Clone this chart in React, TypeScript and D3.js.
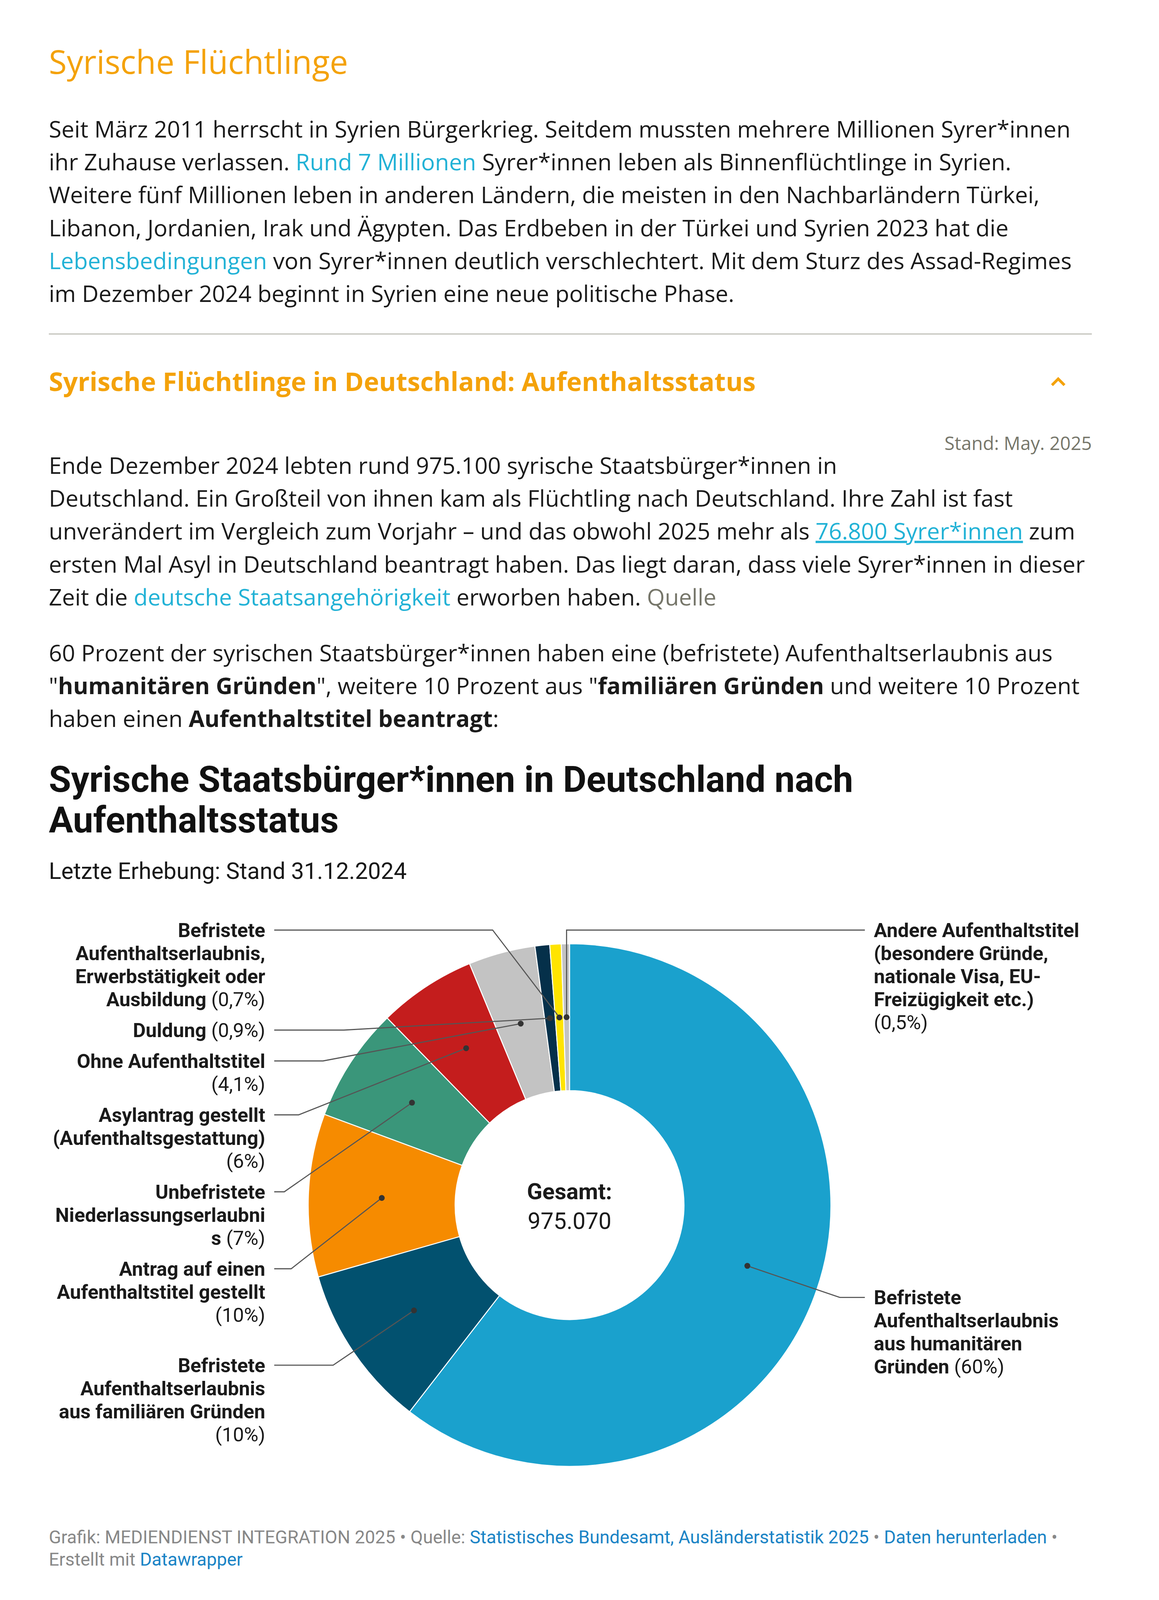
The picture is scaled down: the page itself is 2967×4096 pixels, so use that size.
import * as d3 from 'd3';

// Slice data (reading order: clockwise from 12 o'clock)
const categories = [
  'Befristete\nAufenthaltserlaubnis\naus humanitären\nGründen',
  'Befristete\nAufenthaltserlaubnis\naus familiären Gründen\n',
  'Antrag auf einen\nAufenthaltstitel gestellt\n',
  'Unbefristete\nNiederlassungserlaubni\ns',
  'Asylantrag gestellt\n(Aufenthaltsgestattung)\n',
  'Ohne Aufenthaltstitel\n',
  'Duldung',
  'Befristete\nAufenthaltserlaubnis,\nErwerbstätigkeit oder\nAusbildung',
  'Andere Aufenthaltstitel\n(besondere Gründe,\nnationale Visa, EU-\nFreizügigkeit etc.)\n',
];
const shares = [60, 10, 10, 7, 6, 4.1, 0.9, 0.7, 0.5];
const sliceColors = ['#1aa1cd', '#02516f', '#f68b00', '#3a967a', '#c41d1d', '#c3c3c3', '#05304a', '#ffe400', '#c3c3c3'];
const labelSide = ['right', 'left', 'left', 'left', 'left', 'left', 'left', 'left', 'right'];
const totalLabel = '975.070';

type Seg = { t: string; k?: 'link' | 'u' | 'b' | 'q' };
const p1: Seg[][] = [
  [{ t: 'Seit März 2011 herrscht in Syrien Bürgerkrieg. Seitdem mussten mehrere Millionen Syrer*innen' }],
  [{ t: 'ihr Zuhause verlassen. ' }, { t: 'Rund 7 Millionen', k: 'link' }, { t: ' Syrer*innen leben als Binnenflüchtlinge in Syrien.' }],
  [{ t: 'Weitere fünf Millionen leben in anderen Ländern, die meisten in den Nachbarländern Türkei,' }],
  [{ t: 'Libanon, Jordanien, Irak und Ägypten. Das Erdbeben in der Türkei und Syrien 2023 hat die' }],
  [{ t: 'Lebensbedingungen', k: 'link' }, { t: ' von Syrer*innen deutlich verschlechtert. Mit dem Sturz des Assad-Regimes' }],
  [{ t: 'im Dezember 2024 beginnt in Syrien eine neue politische Phase.' }],
];
const p2: Seg[][] = [
  [{ t: 'Ende Dezember 2024 lebten rund 975.100 syrische Staatsbürger*innen in' }],
  [{ t: 'Deutschland. Ein Großteil von ihnen kam als Flüchtling nach Deutschland. Ihre Zahl ist fast' }],
  [{ t: 'unverändert im Vergleich zum Vorjahr – und das obwohl 2025 mehr als ' }, { t: '76.800 Syrer*innen', k: 'u' }, { t: ' zum' }],
  [{ t: 'ersten Mal Asyl in Deutschland beantragt haben. Das liegt daran, dass viele Syrer*innen in dieser' }],
  [{ t: 'Zeit die ' }, { t: 'deutsche Staatsangehörigkeit', k: 'link' }, { t: ' erworben haben. ' }, { t: 'Quelle', k: 'q' }],
];
const p3: Seg[][] = [
  [{ t: '60 Prozent der syrischen Staatsbürger*innen haben eine (befristete) Aufenthaltserlaubnis aus' }],
  [{ t: '"' }, { t: 'humanitären Gründen', k: 'b' }, { t: '", weitere 10 Prozent aus "' }, { t: 'familiären Gründen', k: 'b' }, { t: ' und weitere 10 Prozent' }],
  [{ t: 'haben einen ' }, { t: 'Aufenthaltstitel beantragt', k: 'b' }, { t: ':' }],
];
const footer1: Seg[] = [
  { t: 'Grafik: MEDIENDIENST INTEGRATION 2025 • Quelle: ' },
  { t: 'Statistisches Bundesamt, Ausländerstatistik 2025', k: 'link' },
  { t: ' • ' },
  { t: 'Daten herunterladen', k: 'link' },
  { t: ' •' },
];
const footer2: Seg[] = [{ t: 'Erstellt mit ' }, { t: 'Datawrapper', k: 'link' }];

const W = 2967;
const H = 4096;
const left = 125;
const right = 2795;
const open = '"Open Sans", "Noto Sans", sans-serif';
const roboto = 'Roboto, "Noto Sans", sans-serif';
const orange = '#f4a20a';
const cyan = '#22b2d6';

const cx = 1458;
const cy = 3085;
const outerR = 669;
const innerR = 293;
const elbowR = outerR + 62;
const labelOff = 779;
const lineOff = 756;
const lineH = 59;
const gap = 20;
const minLineY = 2381;

function Para({ lines, y0 }: { lines: Seg[][]; y0: number }) {
  return (
    <g>
      {lines.map((segs, i) => (
        <text key={i} x={left} y={y0 + i * 84.2} fontFamily={open} fontSize={58.9} fill="#1a1a1a">
          {segs.map((s, j) => (
            <tspan
              key={j}
              fill={s.k === 'link' || s.k === 'u' ? cyan : s.k === 'q' ? '#76766a' : '#1a1a1a'}
              fontWeight={s.k === 'b' ? 700 : 400}
              textDecoration={s.k === 'u' ? 'underline' : undefined}
            >
              {s.t}
            </tspan>
          ))}
        </text>
      ))}
    </g>
  );
}

const fmtPct = (v: number) => `(${String(v).replace('.', ',')}%)`;

export default function App() {
  const pie = d3.pie<number>().sort(null).value((d) => d);
  const arcs = pie(shares);
  const arc = d3.arc<d3.PieArcDatum<number>>().innerRadius(innerR).outerRadius(outerR);

  // label placement: ideal y on an outer ring, then stacked downward per side
  const items = arcs.map((a, i) => {
    const mid = (a.startAngle + a.endAngle) / 2;
    const [dx, dy] = arc.centroid(a);
    const lines = categories[i].split('\n');
    return {
      i,
      side: labelSide[i],
      ideal: cy - elbowR * Math.cos(mid),
      dot: [cx + dx, cy + dy],
      lines,
      y: 0,
    };
  });
  (['left', 'right'] as const).forEach((side) => {
    const list = items.filter((d) => d.side === side).sort((a, b) => a.ideal - b.ideal);
    let next = minLineY;
    list.forEach((d) => {
      d.y = Math.max(d.ideal, next);
      next = d.y + d.lines.length * lineH + gap;
    });
  });

  return (
    <div style={{ position: 'absolute', left: 0, top: 0 }}>
      <svg width={W} height={H} style={{ display: 'block', background: '#fff' }}>
        <text x={left} y={189} fontFamily={open} fontSize={83.7} fill={orange}>
          Syrische Flüchtlinge
        </text>
        <Para lines={p1} y0={352} />
        <line x1={left} x2={right} y1={855} y2={855} stroke="#c8c8c2" strokeWidth={3.5} />
        <text x={left} y={1001} fontFamily={open} fontSize={66.3} fontWeight={700} fill={orange}>
          Syrische Flüchtlinge in Deutschland: Aufenthaltsstatus
        </text>
        <polyline points="2693,986 2709,970 2725,986" fill="none" stroke={orange} strokeWidth={7} />
        <text x={right} y={1152} textAnchor="end" fontFamily={open} fontSize={47.3} fill="#76766a">
          Stand: May. 2025
        </text>
        <Para lines={p2} y0={1213} />
        <Para lines={p3} y0={1693} />

        <text fontFamily={roboto} fontWeight={700} fontSize={92.5} fill="#111">
          <tspan x={left} y={2027}>Syrische Staatsbürger*innen in Deutschland nach</tspan>
          <tspan x={left} y={2131}>Aufenthaltsstatus</tspan>
        </text>
        <text x={left} y={2250} fontFamily={roboto} fontSize={58.9} fill="#181818">
          Letzte Erhebung: Stand 31.12.2024
        </text>

        <g transform={`translate(${cx},${cy})`}>
          {arcs.map((a, i) => (
            <path key={i} d={arc(a) ?? ''} fill={sliceColors[i]} stroke="#fff" strokeWidth={2.5} />
          ))}
        </g>

        {items.map((d) => {
          const isLeft = d.side === 'left';
          const sx = isLeft ? cx - lineOff : cx + lineOff;
          const ddy = d.y - cy;
          let ex = Math.abs(ddy) < elbowR ? Math.sqrt(elbowR * elbowR - ddy * ddy) : 0;
          ex = isLeft ? cx - ex : cx + ex;
          if ((isLeft && d.dot[0] > cx) || (!isLeft && d.dot[0] < cx)) ex = d.dot[0];
          const lx = isLeft ? cx - labelOff : cx + labelOff;
          const pct = fmtPct(shares[d.i]);
          return (
            <g key={d.i}>
              <polyline
                points={`${sx},${d.y} ${ex},${d.y} ${d.dot[0]},${d.dot[1]}`}
                fill="none"
                stroke="#555"
                strokeWidth={2.8}
              />
              <circle cx={d.dot[0]} cy={d.dot[1]} r={7.5} fill="#333" />
              {d.lines.map((ln, k) => {
                const last = k === d.lines.length - 1;
                return (
                  <text
                    key={k}
                    x={lx}
                    y={d.y + 18 + k * lineH}
                    textAnchor={isLeft ? 'end' : 'start'}
                    fontFamily={roboto}
                    fontSize={50.4}
                    fill="#1a1a1a"
                  >
                    <tspan fontWeight={700}>{ln}</tspan>
                    {last && <tspan fontWeight={400}>{(ln ? ' ' : '') + pct}</tspan>}
                  </text>
                );
              })}
            </g>
          );
        })}

        <text x={cx} y={3070} textAnchor="middle" fontFamily={roboto} fontWeight={700} fontSize={58} fill="#1a1a1a">
          Gesamt:
        </text>
        <text x={cx} y={3146} textAnchor="middle" fontFamily={roboto} fontSize={59} fill="#1a1a1a">
          {totalLabel}
        </text>

        {[footer1, footer2].map((segs, i) => (
          <text key={i} x={left} y={3951 + i * 57} fontFamily={roboto} fontSize={46.3} fill="#888">
            {segs.map((s, j) => (
              <tspan key={j} fill={s.k === 'link' ? '#1b84c6' : '#888'}>
                {s.t}
              </tspan>
            ))}
          </text>
        ))}
      </svg>
    </div>
  );
}
